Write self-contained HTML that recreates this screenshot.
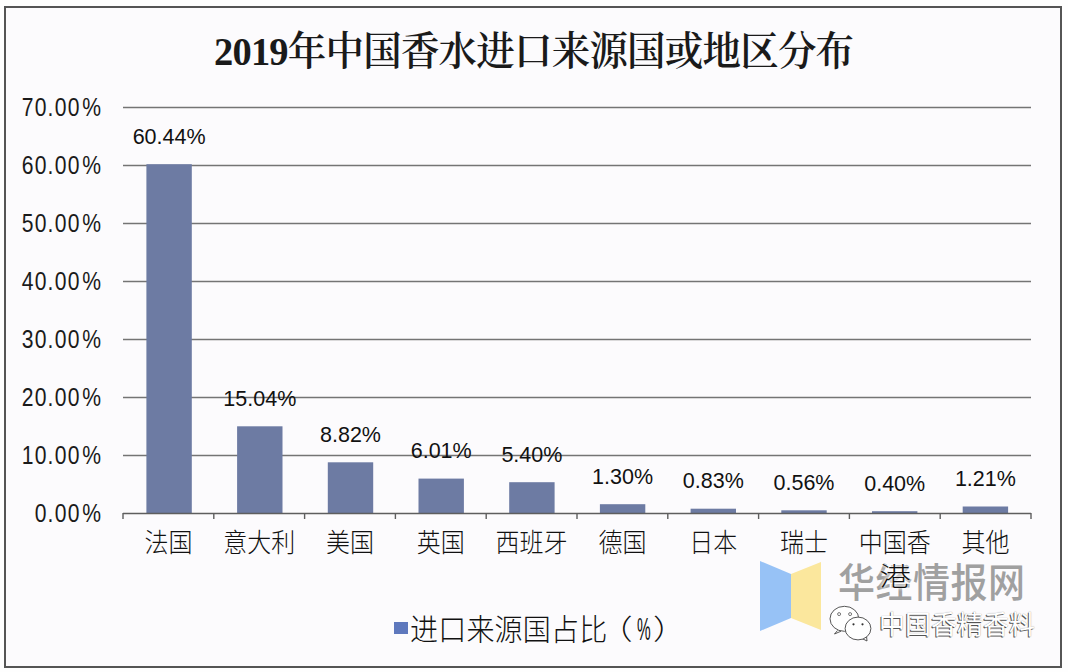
<!DOCTYPE html>
<html><head><meta charset="utf-8">
<style>
html,body{margin:0;padding:0;}
body{width:1068px;height:672px;position:relative;overflow:hidden;background:#fefefe;}
.frame{position:absolute;left:4px;top:6px;width:1054px;height:658px;border:2px solid #555;background:#fcfbfd;}
.t{position:absolute;white-space:nowrap;line-height:1;}
.title{font-family:"Liberation Serif","Noto Serif CJK SC",serif;font-weight:600;font-size:38.5px;letter-spacing:-0.8px;color:#1a1a1a;left:214px;top:32px;transform-origin:0 0;transform:scaleY(1.04);}
.yl{font-family:"Liberation Sans",sans-serif;font-size:24px;color:#1a1a1a;width:90px;text-align:right;left:12px;transform-origin:100% 50%;transform:scaleY(1.04);}
.yc{display:inline-block;text-align:center;}
.yc span{display:inline-block;transform:scaleX(0.88);}
.dl{font-family:"Liberation Sans",sans-serif;font-size:21.5px;letter-spacing:0px;color:#111;width:100px;text-align:center;}
.xl{font-family:"Liberation Sans","Noto Sans CJK SC",sans-serif;font-weight:300;font-size:24px;color:#111;width:90px;text-align:center;line-height:30px;white-space:normal;transform-origin:50% 0;transform:scaleY(1.08);}
.lg{font-family:"Liberation Sans","Noto Sans CJK SC",sans-serif;font-weight:300;font-size:28px;letter-spacing:0.2px;color:#111;top:615px;transform-origin:0 0;transform:scaleY(1.07);}
.pc{display:inline-block;width:14px;overflow:visible;}
.pc span{display:inline-block;transform:scaleX(0.55);transform-origin:0 50%;}
.hk{display:inline-block;position:relative;top:1.5px;transform:scaleX(1.3);text-shadow:0 0 2px #fff,0 0 3px #fff,0 0 3px #fff;}
.wm{font-family:"Noto Sans CJK SC",sans-serif;font-weight:500;font-size:37px;color:#a0a0a0;left:838px;top:561px;letter-spacing:0.5px;transform-origin:0 0;transform:scaleY(1.07);}
.wm2{font-family:"Noto Sans CJK SC",sans-serif;font-weight:400;font-size:26px;color:#fff;left:879px;top:610px;text-shadow:-1px 1px 0 #555, 0 0 1px #888;}
svg{position:absolute;left:0;top:0;}
</style></head><body>
<div class="frame"></div>

<svg width="1068" height="672" viewBox="0 0 1068 672"><line x1="123" y1="455.5" x2="1031" y2="455.5" stroke="#747474" stroke-width="1.3"/><line x1="123" y1="397.5" x2="1031" y2="397.5" stroke="#747474" stroke-width="1.3"/><line x1="123" y1="339.5" x2="1031" y2="339.5" stroke="#747474" stroke-width="1.3"/><line x1="123" y1="281.5" x2="1031" y2="281.5" stroke="#747474" stroke-width="1.3"/><line x1="123" y1="223.5" x2="1031" y2="223.5" stroke="#747474" stroke-width="1.3"/><line x1="123" y1="165.5" x2="1031" y2="165.5" stroke="#747474" stroke-width="1.3"/><line x1="123" y1="107.5" x2="1031" y2="107.5" stroke="#747474" stroke-width="1.3"/><rect x="146.4" y="164.2" width="45.4" height="349.3" fill="#6d7ba3"/><rect x="237.1" y="426.3" width="45.4" height="87.2" fill="#6d7ba3"/><rect x="327.8" y="462.3" width="45.4" height="51.2" fill="#6d7ba3"/><rect x="418.5" y="478.6" width="45.4" height="34.9" fill="#6d7ba3"/><rect x="509.2" y="482.2" width="45.4" height="31.3" fill="#6d7ba3"/><rect x="599.9" y="504.2" width="45.4" height="9.3" fill="#6d7ba3"/><rect x="690.6" y="508.7" width="45.4" height="4.8" fill="#6d7ba3"/><rect x="781.3" y="510.3" width="45.4" height="3.2" fill="#6d7ba3"/><rect x="872.0" y="511.2" width="45.4" height="2.3" fill="#6d7ba3"/><rect x="962.7" y="506.5" width="45.4" height="7.0" fill="#6d7ba3"/><line x1="123" y1="513.5" x2="1031" y2="513.5" stroke="#5e5e5e" stroke-width="1.4"/><line x1="123.0" y1="513" x2="123.0" y2="519" stroke="#5e5e5e" stroke-width="1.4"/><line x1="213.8" y1="513" x2="213.8" y2="519" stroke="#5e5e5e" stroke-width="1.4"/><line x1="304.6" y1="513" x2="304.6" y2="519" stroke="#5e5e5e" stroke-width="1.4"/><line x1="395.4" y1="513" x2="395.4" y2="519" stroke="#5e5e5e" stroke-width="1.4"/><line x1="486.2" y1="513" x2="486.2" y2="519" stroke="#5e5e5e" stroke-width="1.4"/><line x1="577.0" y1="513" x2="577.0" y2="519" stroke="#5e5e5e" stroke-width="1.4"/><line x1="667.8" y1="513" x2="667.8" y2="519" stroke="#5e5e5e" stroke-width="1.4"/><line x1="758.6" y1="513" x2="758.6" y2="519" stroke="#5e5e5e" stroke-width="1.4"/><line x1="849.4" y1="513" x2="849.4" y2="519" stroke="#5e5e5e" stroke-width="1.4"/><line x1="940.2" y1="513" x2="940.2" y2="519" stroke="#5e5e5e" stroke-width="1.4"/><line x1="1031.0" y1="513" x2="1031.0" y2="519" stroke="#5e5e5e" stroke-width="1.4"/></svg>
<div class="t title">2019年中国香水进口来源国或地区分布</div>
<div class="t yl" style="top:502.0px"><span class="yc" style="width:13.34px"><span>0</span></span><span class="yc" style="width:6.67px"><span>.</span></span><span class="yc" style="width:13.34px"><span>0</span></span><span class="yc" style="width:13.34px"><span>0</span></span><span class="yc" style="width:21.34px"><span>%</span></span></div>
<div class="t yl" style="top:444.0px"><span class="yc" style="width:13.34px"><span>1</span></span><span class="yc" style="width:13.34px"><span>0</span></span><span class="yc" style="width:6.67px"><span>.</span></span><span class="yc" style="width:13.34px"><span>0</span></span><span class="yc" style="width:13.34px"><span>0</span></span><span class="yc" style="width:21.34px"><span>%</span></span></div>
<div class="t yl" style="top:386.0px"><span class="yc" style="width:13.34px"><span>2</span></span><span class="yc" style="width:13.34px"><span>0</span></span><span class="yc" style="width:6.67px"><span>.</span></span><span class="yc" style="width:13.34px"><span>0</span></span><span class="yc" style="width:13.34px"><span>0</span></span><span class="yc" style="width:21.34px"><span>%</span></span></div>
<div class="t yl" style="top:328.0px"><span class="yc" style="width:13.34px"><span>3</span></span><span class="yc" style="width:13.34px"><span>0</span></span><span class="yc" style="width:6.67px"><span>.</span></span><span class="yc" style="width:13.34px"><span>0</span></span><span class="yc" style="width:13.34px"><span>0</span></span><span class="yc" style="width:21.34px"><span>%</span></span></div>
<div class="t yl" style="top:270.0px"><span class="yc" style="width:13.34px"><span>4</span></span><span class="yc" style="width:13.34px"><span>0</span></span><span class="yc" style="width:6.67px"><span>.</span></span><span class="yc" style="width:13.34px"><span>0</span></span><span class="yc" style="width:13.34px"><span>0</span></span><span class="yc" style="width:21.34px"><span>%</span></span></div>
<div class="t yl" style="top:212.0px"><span class="yc" style="width:13.34px"><span>5</span></span><span class="yc" style="width:13.34px"><span>0</span></span><span class="yc" style="width:6.67px"><span>.</span></span><span class="yc" style="width:13.34px"><span>0</span></span><span class="yc" style="width:13.34px"><span>0</span></span><span class="yc" style="width:21.34px"><span>%</span></span></div>
<div class="t yl" style="top:154.0px"><span class="yc" style="width:13.34px"><span>6</span></span><span class="yc" style="width:13.34px"><span>0</span></span><span class="yc" style="width:6.67px"><span>.</span></span><span class="yc" style="width:13.34px"><span>0</span></span><span class="yc" style="width:13.34px"><span>0</span></span><span class="yc" style="width:21.34px"><span>%</span></span></div>
<div class="t yl" style="top:96.0px"><span class="yc" style="width:13.34px"><span>7</span></span><span class="yc" style="width:13.34px"><span>0</span></span><span class="yc" style="width:6.67px"><span>.</span></span><span class="yc" style="width:13.34px"><span>0</span></span><span class="yc" style="width:13.34px"><span>0</span></span><span class="yc" style="width:21.34px"><span>%</span></span></div>
<div class="t dl" style="left:119.1px;top:127.2px">60.44%</div>
<div class="t dl" style="left:209.8px;top:388.8px">15.04%</div>
<div class="t dl" style="left:300.5px;top:424.8px">8.82%</div>
<div class="t dl" style="left:391.2px;top:441.1px">6.01%</div>
<div class="t dl" style="left:481.9px;top:444.7px">5.40%</div>
<div class="t dl" style="left:572.6px;top:467.2px">1.30%</div>
<div class="t dl" style="left:663.3px;top:471.2px">0.83%</div>
<div class="t dl" style="left:754.0px;top:472.8px">0.56%</div>
<div class="t dl" style="left:844.7px;top:473.7px">0.40%</div>
<div class="t dl" style="left:935.4px;top:469.0px">1.21%</div>
<svg width="1068" height="672" viewBox="0 0 1068 672"><polygon points="760,561 791,574 791,618 760,631" fill="#97c2f6"/><polygon points="791,574 821,562 821,630 791,618" fill="#fbe79d"/></svg>
<div class="t wm">华经情报网</div>
<div class="t xl" style="left:123.4px;top:527px">法国</div>
<div class="t xl" style="left:214.2px;top:527px">意大利</div>
<div class="t xl" style="left:305.0px;top:527px">美国</div>
<div class="t xl" style="left:395.8px;top:527px">英国</div>
<div class="t xl" style="left:486.6px;top:527px">西班牙</div>
<div class="t xl" style="left:577.4px;top:527px">德国</div>
<div class="t xl" style="left:668.2px;top:527px">日本</div>
<div class="t xl" style="left:759.0px;top:527px">瑞士</div>
<div class="t xl" style="left:849.8px;top:527px">中国香<br><span class="hk">港</span></div>
<div class="t xl" style="left:940.6px;top:527px">其他</div>
<div style="position:absolute;left:394px;top:622px;width:14px;height:12px;background:#5e78bd"></div>
<div class="t lg" style="left:410px">进口来源国占比</div>
<div class="t lg" style="left:599px;top:617px;transform:scale(1.2,1.0)">（</div>
<div class="t lg" style="left:637px;transform:scale(0.55,1.1)">%</div>
<div class="t lg" style="left:652.5px;top:617px;transform:scale(1.2,1.0)">）</div>
<svg width="1068" height="672" viewBox="0 0 1068 672" style="position:absolute;left:0;top:0">
<path d="M837.5,630.5 L834.5,634 L841,631.2" fill="#fff" stroke="#444" stroke-width="0.9"/>
<ellipse cx="844.4" cy="618.8" rx="14.4" ry="12.5" fill="#fff" stroke="#444" stroke-width="0.9"/>
<circle cx="839.1" cy="614.1" r="1.5" fill="#fff" stroke="#555" stroke-width="0.8"/><circle cx="850.1" cy="614.1" r="1.5" fill="#fff" stroke="#555" stroke-width="0.8"/>
<path d="M862,638.5 L867,641 L866.5,636" fill="#fff" stroke="#444" stroke-width="0.9"/>
<ellipse cx="858" cy="628.5" rx="12.9" ry="11.4" fill="#fff" stroke="#444" stroke-width="0.9"/>
<circle cx="853.5" cy="624.3" r="1.1" fill="#333"/><circle cx="862.5" cy="624.3" r="1.1" fill="#333"/>
</svg>
<div class="t wm2">中国香精香料</div>
</body></html>
